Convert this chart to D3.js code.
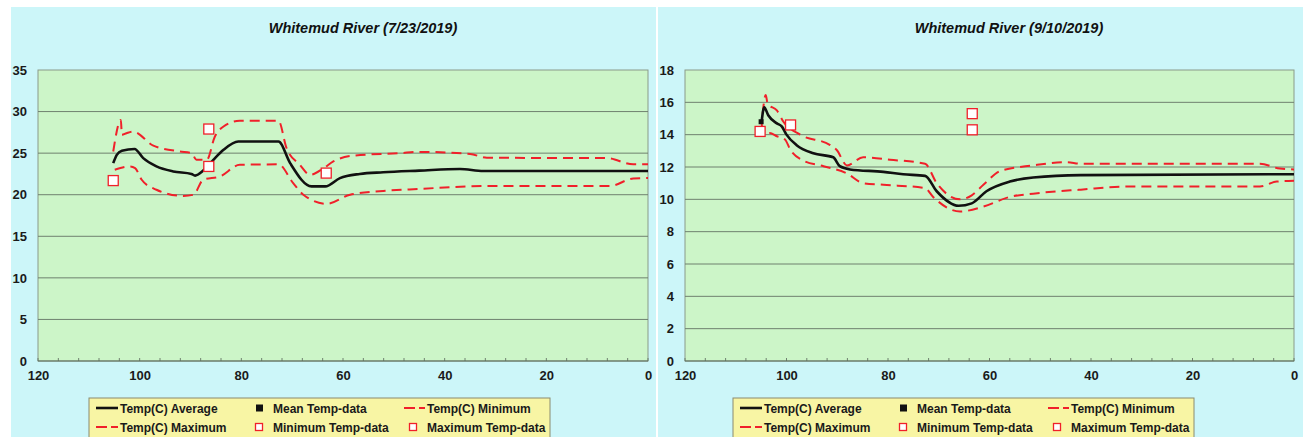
<!DOCTYPE html>
<html>
<head>
<meta charset="utf-8">
<script src="https://cdn.jsdelivr.net/npm/d3@7"></script>
<style>
  body { margin: 0; background: #ffffff; }
  svg { display: block; font-family: "Liberation Sans", Arial, sans-serif; }
</style>
</head>
<body>
<div id="chart-area"></div>
<script>
// x = river km (reversed axis), y = temperature (C)
var xTicks = [120, 100, 80, 60, 40, 20, 0];
var leftYTicks = [0, 5, 10, 15, 20, 25, 30, 35];
var rightYTicks = [0, 2, 4, 6, 8, 10, 12, 14, 16, 18];

var legendRow1 = ["Temp(C) Average", "Mean Temp-data", "Temp(C) Minimum"];
var legendRow2 = ["Temp(C) Maximum", "Minimum Temp-data", "Maximum Temp-data"];

// --- 7/23/2019 ---
var leftAvg = [[105.2,23.8],[104.5,24.8],[103.5,25.3],[101,25.5],[99.3,24.4],[96.7,23.4],[93.4,22.8],
  [89.8,22.5],[89.1,22.3],[87.5,22.9],[85.5,24.2],[83.5,25.4],[80.6,26.4],[72.7,26.4],[70.4,23.8],
  [66.2,21.0],[63.5,21.0],[60.6,22.0],[56.7,22.5],[52.1,22.7],[45,22.9],[37,23.1],[32.4,22.85],[0,22.85]];
var leftMax = [[105.2,25.2],[103.7,29.0],[103.5,27.2],[102.6,27.4],[101.3,27.6],[97.3,25.9],[92.1,25.2],
  [89.8,25.0],[88.8,24.2],[86.8,24.2],[85.2,27.0],[83.5,28.2],[80.3,28.9],[72.7,28.9],[71.1,25.6],
  [68.5,23.6],[66.5,22.4],[63.8,23.2],[61.9,24.0],[58,24.7],[48.8,25.0],[44.9,25.15],[35,24.9],
  [31.7,24.45],[8.1,24.4],[2.9,23.65],[0,23.65]];
var leftMin = [[104.9,23.0],[101.9,23.4],[100.9,23.2],[99.6,21.8],[96.7,20.6],[91.4,19.85],[89.4,20.0],
  [87.5,21.8],[84.2,22.2],[80.3,23.6],[72.7,23.65],[69.8,21.4],[67.8,20.0],[63.2,18.9],[58.6,20.0],
  [52.1,20.45],[44.9,20.7],[31.7,21.05],[7.5,21.05],[2.9,21.95],[0,22.0]];
var leftMeanData = [];
var leftMinData = [[105.2,21.7],[86.4,23.4]];
var leftMaxData = [[86.4,27.9],[63.3,22.6]];

// --- 9/10/2019 ---
var rightAvg = [[104.9,14.8],[104.6,15.5],[104.4,15.7],[103.6,15.2],[101.9,14.7],[100.9,14.5],[100,14.0],
  [98,13.35],[94.7,12.85],[90.8,12.6],[89.5,12.05],[87.5,11.85],[80.9,11.7],[77,11.55],[72.7,11.45],
  [70.4,10.5],[66.1,9.6],[63.5,9.75],[60.6,10.5],[56,11.1],[51.4,11.35],[42,11.5],[0,11.55]];
var rightMax = [[104.7,15.3],[104.1,16.45],[103.7,15.9],[101.9,15.5],[100.6,14.8],[97.3,14.0],[91.4,13.35],
  [90.1,13.05],[88.1,12.1],[84.9,12.6],[79.6,12.45],[72.7,12.2],[70.4,11.0],[65.8,10.0],[63.5,10.25],
  [61.2,10.9],[57.9,11.75],[51.4,12.1],[44.8,12.3],[42,12.2],[6.7,12.2],[2.8,11.9],[0,11.85]];
var rightMin = [[104.9,14.7],[104.6,14.1],[103.3,14.1],[101.9,13.9],[100.3,13.7],[99.3,13.1],[96.7,12.4],
  [92.7,12.05],[88.1,11.6],[84.9,11.0],[80.9,10.9],[72.7,10.7],[71.1,10.15],[65.8,9.25],[61.2,9.55],
  [56,10.15],[51.4,10.35],[42,10.6],[32.3,10.8],[6.7,10.8],[3.4,11.1],[0,11.15]];
var rightMeanData = [[105.0,14.8]];
var rightMinData = [[105.2,14.2],[63.4,14.3]];
var rightMaxData = [[99.2,14.6],[63.4,15.3]];

var W = 1303, H = 437;
var svg = d3.select("#chart-area").append("svg")
    .attr("width", W)
    .attr("height", H);

var red = "#f0202a";

function drawPanel(p) {
    var g = svg.append("g");

    g.append("rect")
        .attr("x", p.bgX).attr("y", 7)
        .attr("width", p.bgW).attr("height", H - 7)
        .attr("fill", "#ccf6f9");

    g.append("text")
        .attr("x", p.titleX).attr("y", 33)
        .attr("text-anchor", "middle")
        .attr("font-size", "14.5px")
        .attr("font-weight", "bold")
        .attr("font-style", "italic")
        .attr("fill", "#111")
        .text(p.title);

    var x = d3.scaleLinear().domain([120, 0]).range([p.left, p.right]);
    var y = d3.scaleLinear().domain([0, d3.max(p.yTicks)]).range([361, 70]);

    g.append("rect")
        .attr("x", p.left).attr("y", 70)
        .attr("width", p.right - p.left).attr("height", 291)
        .attr("fill", "#ccf5c8")
        .attr("stroke", "#8a9a8a")
        .attr("stroke-width", 1);

    // gridlines
    g.selectAll(".grid")
        .data(p.yTicks.slice(1, -1))
        .enter().append("line")
        .attr("x1", p.left).attr("x2", p.right)
        .attr("y1", function(d){ return y(d); })
        .attr("y2", function(d){ return y(d); })
        .attr("stroke", "#6f806f")
        .attr("stroke-width", 1);

    // minor ticks on the bottom
    g.selectAll(".minor")
        .data(d3.range(0, 121, 4))
        .enter().append("line")
        .attr("x1", function(d){ return x(d); })
        .attr("x2", function(d){ return x(d); })
        .attr("y1", 361).attr("y2", 358)
        .attr("stroke", "#6f806f");

    g.append("line")
        .attr("x1", p.left).attr("x2", p.right)
        .attr("y1", 361).attr("y2", 361)
        .attr("stroke", "#5a6a5a");

    var xAxisCall = d3.axisBottom(x).tickValues(xTicks).tickSize(0).tickPadding(10);
    var xa = g.append("g")
        .attr("transform", "translate(0,361)")
        .call(xAxisCall);
    xa.select(".domain").remove();
    xa.selectAll("text")
        .attr("font-size", "13px")
        .attr("font-weight", "bold")
        .attr("font-family", "Liberation Sans, Arial, sans-serif")
        .attr("fill", "#1a1a1a");

    var yAxisCall = d3.axisLeft(y).tickValues(p.yTicks).tickSize(0).tickPadding(11);
    var ya = g.append("g")
        .attr("transform", "translate(" + p.left + ",0)")
        .call(yAxisCall);
    ya.select(".domain").remove();
    ya.selectAll("text")
        .attr("font-size", "13px")
        .attr("font-weight", "bold")
        .attr("font-family", "Liberation Sans, Arial, sans-serif")
        .attr("fill", "#1a1a1a");

    var line = d3.line()
        .x(function(d){ return x(d[0]); })
        .y(function(d){ return y(d[1]); })
        .curve(d3.curveMonotoneX);

    [p.max, p.min].forEach(function(s){
        g.append("path")
            .attr("d", line(s))
            .attr("fill", "none")
            .attr("stroke", red)
            .attr("stroke-width", 2)
            .attr("stroke-dasharray", "10,6");
    });

    g.append("path")
        .attr("d", line(p.avg))
        .attr("fill", "none")
        .attr("stroke", "#111")
        .attr("stroke-width", 2.6);

    g.selectAll(".mean")
        .data(p.meanData)
        .enter().append("rect")
        .attr("x", function(d){ return x(d[0]) - 2.5; })
        .attr("y", function(d){ return y(d[1]) - 2.5; })
        .attr("width", 5).attr("height", 5)
        .attr("fill", "#111");

    g.selectAll(".sq")
        .data(p.minData.concat(p.maxData))
        .enter().append("rect")
        .attr("x", function(d){ return x(d[0]) - 5; })
        .attr("y", function(d){ return y(d[1]) - 5; })
        .attr("width", 10).attr("height", 10)
        .attr("fill", "#ffffff")
        .attr("stroke", red)
        .attr("stroke-width", 1.3);

    // legend
    var lx = p.legendX;
    var lg = g.append("g").attr("transform", "translate(" + lx + ",398)");
    lg.append("rect")
        .attr("x", 0).attr("y", 0)
        .attr("width", 461).attr("height", 45)
        .attr("fill", "#f8f5a4")
        .attr("stroke", "#8a8a70");

    var rows = [10, 29];
    var colText = [31, 184, 338];
    [legendRow1, legendRow2].forEach(function(labels, r){
        labels.forEach(function(t, c){
            lg.append("text")
                .attr("x", colText[c]).attr("y", rows[r] + 4.5)
                .attr("font-size", "12px")
                .attr("font-weight", "bold")
                .attr("fill", "#1a1a1a")
                .text(t);
        });
    });
    // symbols
    lg.append("line").attr("x1", 7).attr("x2", 29).attr("y1", rows[0]).attr("y2", rows[0])
        .attr("stroke", "#111").attr("stroke-width", 2.6);
    lg.append("rect").attr("x", 167).attr("y", rows[0] - 3.5).attr("width", 7).attr("height", 7)
        .attr("fill", "#111");
    lg.append("line").attr("x1", 315).attr("x2", 336).attr("y1", rows[0]).attr("y2", rows[0])
        .attr("stroke", red).attr("stroke-width", 2).attr("stroke-dasharray", "11,4");
    lg.append("line").attr("x1", 7).attr("x2", 29).attr("y1", rows[1]).attr("y2", rows[1])
        .attr("stroke", red).attr("stroke-width", 2).attr("stroke-dasharray", "11,4");
    [170, 324].forEach(function(cx){
        lg.append("rect").attr("x", cx - 3.5).attr("y", rows[1] - 3.5).attr("width", 7).attr("height", 7)
            .attr("fill", "#fff").attr("stroke", red).attr("stroke-width", 1.3);
    });
}

drawPanel({
    bgX: 11, bgW: 645, titleX: 363, title: "Whitemud River (7/23/2019)",
    left: 38, right: 648, yTicks: leftYTicks,
    avg: leftAvg, max: leftMax, min: leftMin,
    meanData: leftMeanData, minData: leftMinData, maxData: leftMaxData,
    legendX: 89
});

drawPanel({
    bgX: 658, bgW: 645, titleX: 1009, title: "Whitemud River (9/10/2019)",
    left: 685, right: 1294, yTicks: rightYTicks,
    avg: rightAvg, max: rightMax, min: rightMin,
    meanData: rightMeanData, minData: rightMinData, maxData: rightMaxData,
    legendX: 733
});
</script>
</body>
</html>
